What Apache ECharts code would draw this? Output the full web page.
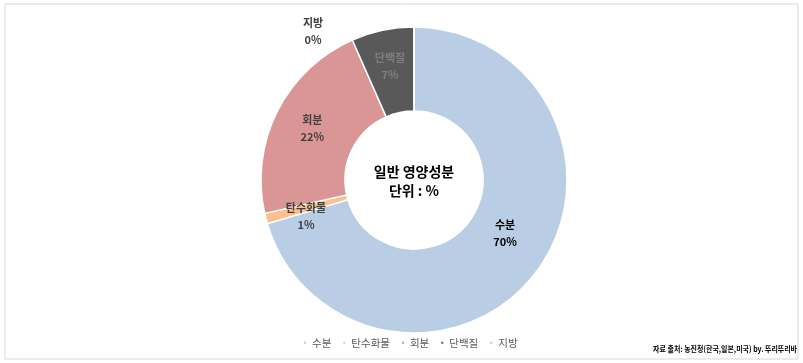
<!DOCTYPE html>
<html><head><meta charset="utf-8">
<script src="https://cdn.jsdelivr.net/npm/echarts@6/dist/echarts.min.js"></script>
<style>html,body{margin:0;padding:0;background:#fff}#c{width:803px;height:363px}</style>
</head><body><div id="c"></div>
<script>
const categories = ['수분', '탄수화물', '회분', '단백질', '지방'];
const values = [70.4, 1.1, 21.9, 6.6, 0.0];
const colors = ['#B9CDE5', '#FAC090', '#D99694', '#595959', '#CCC1DA'];
const labelColors = ['#000000', '#404040', '#404040', '#7f7f7f', '#404040'];
const centerText = '일반 영양성분\n단위 : %';
const sourceText = '자료 출처: 농진청(한국,일본,미국) by. 뚜리뚜리바';

const FONT = '"Noto Sans CJK KR", "Noto Sans", sans-serif';
const chart = echarts.init(document.getElementById('c'), null, {renderer: 'canvas'});
const data = categories.map((n, i) => ({
  name: n, value: values[i],
  itemStyle: {color: colors[i]},
  label: {color: labelColors[i]}
}));
chart.setOption({
  animation: false,
  graphic: [
    {type: 'rect', shape: {x: 5, y: 4, width: 793, height: 355}, style: {fill: 'none', stroke: '#d9d9d9', lineWidth: 1}},
    {type: 'text', x: 414, y: 181, style: {text: centerText, font: 'bold 14px ' + FONT, fill: '#000', align: 'center', verticalAlign: 'middle', lineHeight: 19}},
    {type: 'text', x: 797, y: 349, scaleX: 0.87, style: {text: sourceText, font: 'bold 8px ' + FONT, fill: '#000', align: 'right', verticalAlign: 'middle'}}
  ],
  legend: {
    bottom: 10, left: 297,
    itemWidth: 4, itemHeight: 4, itemGap: 10, icon: 'rect',
    textStyle: {color: '#595959', fontSize: 10.5, fontFamily: FONT},
    data: categories.map(n => ({name: n, icon: 'rect'}))
  },
  series: [{
    type: 'pie',
    center: [414, 180], radius: [69, 153],
    startAngle: 90, clockwise: true,
    avoidLabelOverlap: false,
    itemStyle: {borderColor: '#fff', borderWidth: 1.5},
    label: {
      show: true, position: 'inside',
      formatter: p => p.name + '\n' + Math.round(p.value) + '%',
      fontSize: 11, fontWeight: 'bold', fontFamily: FONT, lineHeight: 17
    },
    labelLine: {show: false},
    labelLayout: function (p) {
      if (p.dataIndex === 0) return {x: 505, y: 233, align: 'center', verticalAlign: 'middle'};
      if (p.dataIndex === 4) return {x: 313, y: 31, align: 'center', verticalAlign: 'middle'};
      if (p.dataIndex === 1) return {x: 306, y: 216, align: 'center', verticalAlign: 'middle'};
      if (p.dataIndex === 3) return {x: 390, y: 66, align: 'center', verticalAlign: 'middle'};
      return {};
    },
    data: data
  }]
});
</script></body></html>
